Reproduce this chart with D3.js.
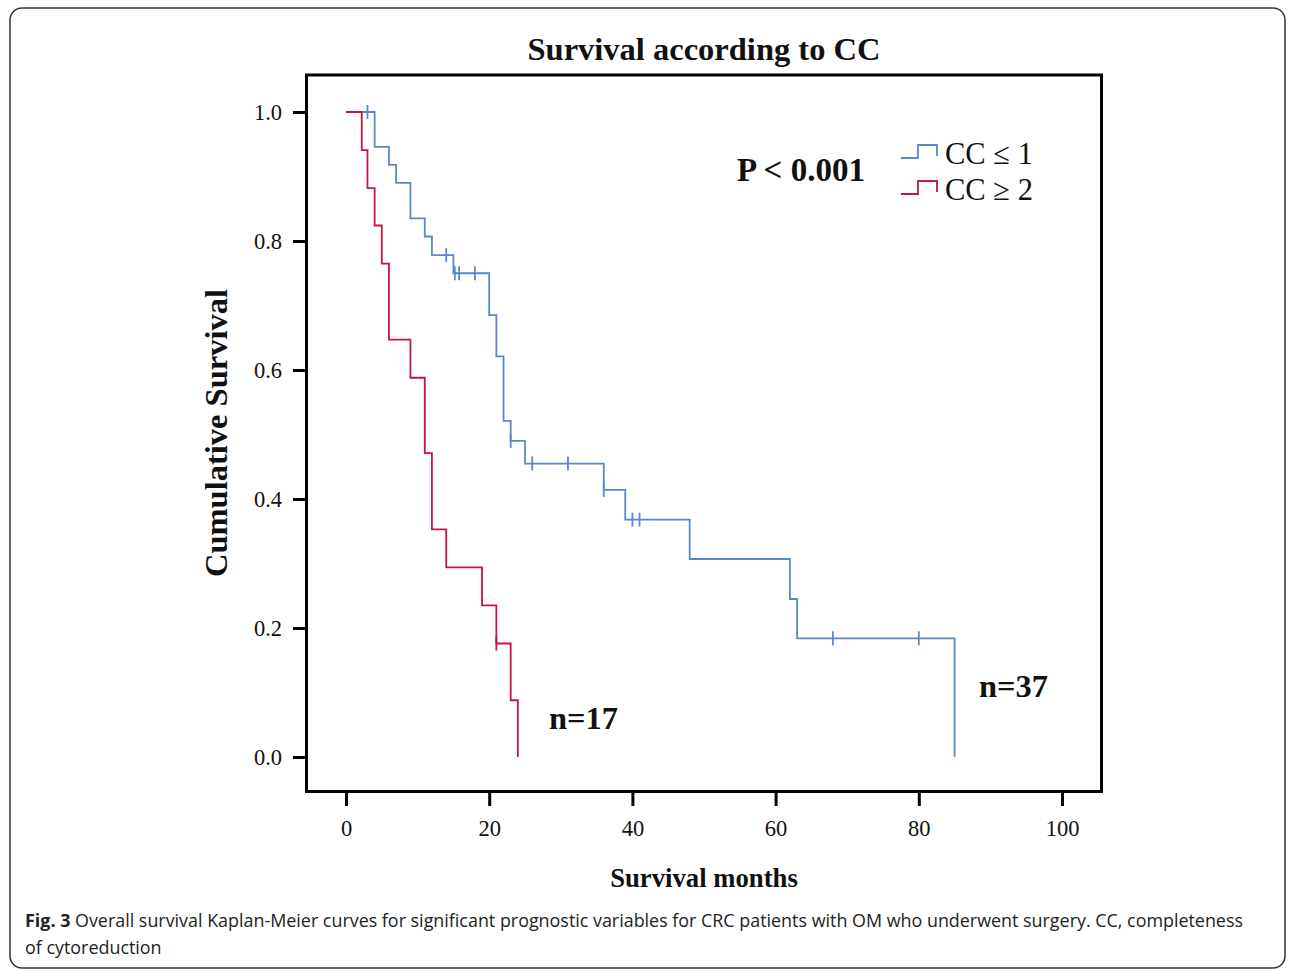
<!DOCTYPE html>
<html><head><meta charset="utf-8">
<script src="https://cdn.jsdelivr.net/npm/d3@7"></script>
<style>html,body{margin:0;padding:0;background:#fff;}</style>
</head><body>
<svg id="c" width="1295" height="971"></svg>
<script>
// ---- data ----
const xTicks = [0, 20, 40, 60, 80, 100];
const yTicks = [0.0, 0.2, 0.4, 0.6, 0.8, 1.0];
// CC <= 1 (n=37): step times (months) and survival after each step
const blueTimes = [0, 4, 6, 7, 9, 11, 12, 15, 20, 21, 22, 23, 25, 36, 39, 48, 62, 63, 85];
const blueSurv  = [1.0, 0.946, 0.918, 0.890, 0.835, 0.807, 0.778, 0.750, 0.685, 0.621, 0.521, 0.490, 0.455, 0.414, 0.368, 0.307, 0.245, 0.184, 0.0];
const blueCensor = [3, 14, 15.2, 15.8, 18, 23, 26, 31, 36, 40, 41, 68, 80];
// CC >= 2 (n=17)
const redTimes = [0, 2.2, 3, 4, 5, 6, 9, 11, 12, 14, 19, 21, 23, 24];
const redSurv  = [1.0, 0.941, 0.882, 0.824, 0.765, 0.647, 0.588, 0.471, 0.353, 0.294, 0.235, 0.176, 0.088, 0.0];
const redCensor = [21];
const legendLabels = ["CC \u2264 1", "CC \u2265 2"];
const blueColor = "#5b87c8", redColor = "#c2163f";

const svg = d3.select("#c");
const serif = "'Liberation Serif','Times New Roman',serif";

// outer rounded frame
svg.append("rect").attr("x", 10).attr("y", 8).attr("width", 1275).attr("height", 960)
  .attr("rx", 12).attr("fill", "none").attr("stroke", "#333").attr("stroke-width", 1.5);

const x = d3.scaleLinear().domain([0, 100]).range([346, 1062]);
const y = d3.scaleLinear().domain([0, 1]).range([757, 112]);

// plot frame
svg.append("rect").attr("x", 306.5).attr("y", 75).attr("width", 795).attr("height", 716.5)
  .attr("fill", "none").attr("stroke", "#000").attr("stroke-width", 3);

// axes
const xAxis = svg.append("g").attr("transform", "translate(0,791)")
  .call(d3.axisBottom(x).tickValues(xTicks).tickSize(15).tickPadding(14).tickFormat(d3.format("d")));
const yAxis = svg.append("g").attr("transform", "translate(306,0)")
  .call(d3.axisLeft(y).tickValues(yTicks).tickSize(13).tickPadding(11).tickFormat(d3.format(".1f")));
[xAxis, yAxis].forEach(g => {
  g.select(".domain").remove();
  g.selectAll(".tick line").attr("stroke", "#000").attr("stroke-width", 3);
  g.selectAll(".tick text").attr("fill", "#111").style("font-family", serif).style("font-size", "22.5px");
});

// title & labels
svg.append("text").attr("x", 704).attr("y", 60).attr("text-anchor", "middle")
  .style("font-family", serif).style("font-weight", "bold").style("font-size", "32.5px").attr("fill", "#111")
  .text("Survival according to CC");
svg.append("text").attr("transform", "translate(227,433) rotate(-90)").attr("text-anchor", "middle")
  .style("font-family", serif).style("font-weight", "bold").style("font-size", "32.5px").attr("fill", "#111")
  .text("Cumulative Survival");
svg.append("text").attr("x", 704).attr("y", 887).attr("text-anchor", "middle")
  .style("font-family", serif).style("font-weight", "bold").style("font-size", "26.7px").attr("fill", "#111")
  .text("Survival months");

// step curves
function stepPath(times, surv) {
  const pts = times.map((t, i) => [t, surv[i]]);
  return d3.line().x(d => x(d[0])).y(d => y(d[1])).curve(d3.curveStepAfter)(pts);
}
function survAt(times, surv, t) {
  let v = surv[0];
  for (let i = 0; i < times.length; i++) if (times[i] <= t) v = surv[i];
  return v;
}
function drawCurve(times, surv, censor, color) {
  svg.append("path").attr("d", stepPath(times, surv)).attr("fill", "none")
    .attr("stroke", color).attr("stroke-width", 1.8);
  svg.append("g").selectAll("line").data(censor).join("line")
    .attr("x1", d => x(d)).attr("x2", d => x(d))
    .attr("y1", d => y(survAt(times, surv, d)) - 7).attr("y2", d => y(survAt(times, surv, d)) + 7)
    .attr("stroke", color).attr("stroke-width", 1.8);
}
drawCurve(blueTimes, blueSurv, blueCensor, blueColor);
drawCurve(redTimes, redSurv, redCensor, redColor);

// legend
[blueColor, redColor].forEach((c, i) => {
  const by = 158 + i * 36;
  svg.append("path").attr("d", `M901,${by} H918 V${by - 13} H937 V${by - 2}`)
    .attr("fill", "none").attr("stroke", c).attr("stroke-width", 1.8);
  svg.append("text").attr("x", 945).attr("y", by + 6)
    .style("font-family", serif).style("font-size", "30.5px").attr("fill", "#111")
    .text(legendLabels[i]);
});

// annotations
svg.append("text").attr("x", 737).attr("y", 181)
  .style("font-family", serif).style("font-weight", "bold").style("font-size", "33px").attr("fill", "#111")
  .text("P < 0.001");
svg.append("text").attr("x", 979).attr("y", 697)
  .style("font-family", serif).style("font-weight", "bold").style("font-size", "32.5px").attr("fill", "#111")
  .text("n=37");
svg.append("text").attr("x", 549).attr("y", 729)
  .style("font-family", serif).style("font-weight", "bold").style("font-size", "32.5px").attr("fill", "#111")
  .text("n=17");

// caption
const cap = svg.append("text").attr("x", 25).attr("y", 927)
  .style("font-family", "'Open Sans',sans-serif").style("font-size", "17.9px").attr("fill", "#222");
cap.append("tspan").style("font-weight", "bold").text("Fig. 3");
cap.append("tspan").text(" Overall survival Kaplan-Meier curves for significant prognostic variables for CRC patients with OM who underwent surgery. CC, completeness");
svg.append("text").attr("x", 25).attr("y", 954)
  .style("font-family", "'Open Sans',sans-serif").style("font-size", "17.9px").attr("fill", "#222")
  .text("of cytoreduction");
</script>
</body></html>
